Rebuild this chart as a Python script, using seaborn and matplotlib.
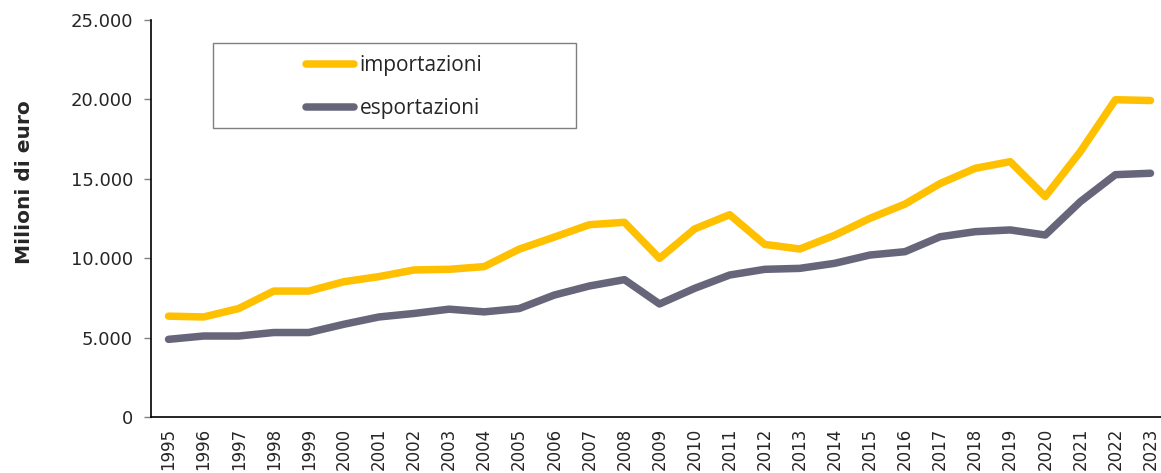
import pandas as pd
import matplotlib
matplotlib.use("Agg")
import matplotlib.pyplot as plt
import seaborn as sns
from matplotlib.ticker import FuncFormatter, MultipleLocator
from matplotlib.patches import Rectangle

# values (millions of euro)
years = list(range(1995, 2024))
importazioni = [6350, 6300, 6830, 7930, 7930, 8520, 8840, 9260, 9300, 9470,
                10570, 11330, 12110, 12260, 9990, 11840, 12740, 10870, 10580, 11450,
                12510, 13410, 14700, 15660, 16080, 13880, 16710, 19980, 19930]
esportazioni = [4890, 5100, 5100, 5320, 5320, 5840, 6300, 6520, 6790, 6620,
                6830, 7680, 8250, 8650, 7120, 8100, 8940, 9300, 9360, 9680,
                10200, 10410, 11350, 11670, 11780, 11460, 13560, 15260, 15350]
series_names = ["importazioni", "esportazioni"]
colors = ["#FFC000", "#67657A"]

df = pd.DataFrame({"anno": years, "importazioni": importazioni, "esportazioni": esportazioni})
long_df = df.melt(id_vars="anno", var_name="serie", value_name="valore")

sns.set_style("white")
plt.rcParams["font.family"] = ["DejaVu Sans"]

fig = plt.figure(figsize=(11.61, 4.73), dpi=100)
ax = fig.add_axes([151 / 1161, 56 / 473, 1010 / 1161, 397 / 473])

sns.lineplot(data=long_df, x="anno", y="valore", hue="serie", hue_order=series_names,
             palette=colors, linewidth=5.4, solid_capstyle="round", ax=ax, legend=False)

ax.set_ylim(0, 25000)
ax.set_xlim(1994.5, 2023.3)
ax.yaxis.set_major_locator(MultipleLocator(5000))
ax.yaxis.set_major_formatter(FuncFormatter(lambda v, p: f"{int(v):,}".replace(",", ".")))

# year labels centred on categories, tick marks between categories
ax.set_xticks(years)
ax.set_xticklabels([str(y) for y in years], rotation=90)
ax.set_xticks([y - 0.5 for y in years], minor=True)
ax.tick_params(axis="x", which="major", length=0, pad=8, labelsize=12)
ax.tick_params(axis="x", which="minor", length=5, color="#808080", width=1)
ax.tick_params(axis="y", length=5, color="#808080", width=1, pad=8, labelsize=13, left=True)

for s in ["top", "right"]:
    ax.spines[s].set_visible(False)
for s in ["left", "bottom"]:
    ax.spines[s].set_color("black")
    ax.spines[s].set_linewidth(1.2)

ax.set_xlabel("")
ax.set_ylabel("Milioni di euro", fontsize=14.5, fontweight="bold")
ax.yaxis.set_label_coords(-0.116, 0.592)

# legend: frameless legend inside a drawn box
box = Rectangle((62 / 1010, 289 / 397), 363 / 1010, 85 / 397, transform=ax.transAxes,
                fill=False, edgecolor="#7f7f7f", linewidth=1, zorder=5)
ax.add_patch(box)
handles = [plt.Line2D([], [], color=c, linewidth=5.4, solid_capstyle="round") for c in colors]
ax.legend(handles, series_names, loc="center", bbox_to_anchor=(0.241, 0.831), frameon=False,
          handlelength=2.3, handletextpad=0.25, labelspacing=1.05,
          prop={"family": ["Open Sans", "DejaVu Sans"], "size": 15})

fig.savefig("out.png", dpi=100)
